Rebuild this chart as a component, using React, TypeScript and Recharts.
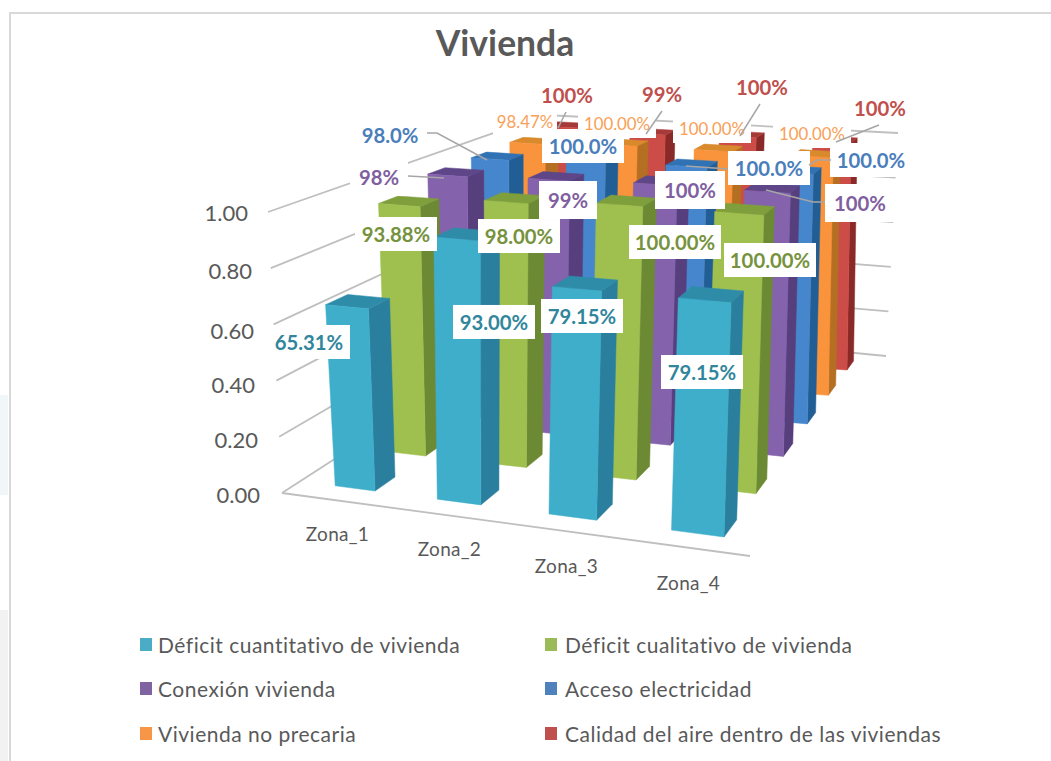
import React from "react";
import { BarChart, Bar, XAxis, YAxis, Legend, CartesianGrid } from "recharts";

const zonas = ["Zona_1", "Zona_2", "Zona_3", "Zona_4"];
const seriesNames = [
  "Déficit cuantitativo de vivienda",
  "Déficit cualitativo de vivienda",
  "Conexión vivienda",
  "Acceso electricidad",
  "Vivienda no precaria",
  "Calidad del aire dentro de las viviendas",
];
const deficitCuantitativo = [0.6531, 0.93, 0.7915, 0.7915];
const deficitCualitativo = [0.9388, 0.98, 1, 1];
const conexion = [0.98, 0.99, 1, 1];
const electricidad = [0.98, 1, 1, 1];
const noPrecaria = [0.9847, 1, 1, 1];
const calidadAire = [1, 0.99, 1, 1];
const seriesValues = [deficitCuantitativo, deficitCualitativo, conexion, electricidad, noPrecaria, calidadAire];

const labelsCuantitativo = ["65.31%", "93.00%", "79.15%", "79.15%"];
const labelsCualitativo = ["93.88%", "98.00%", "100.00%", "100.00%"];
const labelsConexion = ["98%", "99%", "100%", "100%"];
const labelsElectricidad = ["98.0%", "100.0%", "100.0%", "100.0%"];
const labelsNoPrecaria = ["98.47%", "100.00%", "100.00%", "100.00%"];
const labelsAire = ["100%", "99%", "100%", "100%"];
const seriesLabels = [labelsCuantitativo, labelsCualitativo, labelsConexion, labelsElectricidad, labelsNoPrecaria, labelsAire];
const yTicks = [0, 0.2, 0.4, 0.6, 0.8, 1];

const data = zonas.map((zona, c) => {
  const row: Record<string, any> = { zona };
  seriesNames.forEach((n, s) => (row[n] = seriesValues[s][c]));
  return row;
});

// ---- presentation only ----
const FONT = "Lato, 'Open Sans', sans-serif";
const GREY = "#595959";
const W = 1051, H = 761;
const PLOT = { left: 282, right: 750, top: 212, bottom: 493 };
const BAND = (PLOT.right - PLOT.left) / 4;
const PLOT_H = PLOT.bottom - PLOT.top;

const faces = [
  { front: "#3FAECB", side: "#2A7F9E", top: "#2F8CA9", text: "#31859C", swatch: "#4BACC6" },
  { front: "#9FC04F", side: "#6C8A33", top: "#7F9F3D", text: "#76923C", swatch: "#9BBB59" },
  { front: "#8462AC", side: "#573F7E", top: "#5F4688", text: "#7F5FA0", swatch: "#8064A2" },
  { front: "#4686CC", side: "#225E96", top: "#3072B4", text: "#4A7EBB", swatch: "#4F81BD" },
  { front: "#F9943C", side: "#B56F22", top: "#D88A2C", text: "#F9A057", swatch: "#F79646" },
  { front: "#CC4C47", side: "#8A2A28", top: "#A63A38", text: "#C0504D", swatch: "#C0504D" },
];

type Pt = [number, number];
function makeHomography(p0: Pt, p1: Pt, p2: Pt, p3: Pt) {
  const dx1 = p1[0] - p2[0], dx2 = p3[0] - p2[0], sx = p0[0] - p1[0] + p2[0] - p3[0];
  const dy1 = p1[1] - p2[1], dy2 = p3[1] - p2[1], sy = p0[1] - p1[1] + p2[1] - p3[1];
  const den = dx1 * dy2 - dx2 * dy1;
  const g = (sx * dy2 - dx2 * sy) / den, h = (dx1 * sy - sx * dy1) / den;
  const a = p1[0] - p0[0] + g * p1[0], b = p3[0] - p0[0] + h * p3[0];
  const d = p1[1] - p0[1] + g * p1[1], e = p3[1] - p0[1] + h * p3[1];
  return (u: number, v: number): Pt => {
    const q = g * u + h * v + 1;
    return [(a * u + b * v + p0[0]) / q, (d * u + e * v + p0[1]) / q];
  };
}
// view of the 3-D box: category runs along u, series along v, value along w
const floor = makeHomography([375, 491], [724, 537], [847, 370], [576, 352]);
const ceiling = makeHomography([365, 212], [733, 241], [851, 143], [578, 128]);
function project(cat: number, ser: number, w: number): Pt {
  const f = floor(cat / 3, ser / 5), t = ceiling(cat / 3, ser / 5);
  return [f[0] + (t[0] - f[0]) * w, f[1] + (t[1] - f[1]) * w];
}
const poly = (pts: Pt[]) => pts.map((p) => `${p[0].toFixed(1)},${p[1].toFixed(1)}`).join(" ");
const BAR_U = 0.4, BAR_V = 0.38;

function Box3D(props: any, s: number) {
  const c: number = props.index;
  const w = props.height / PLOT_H;
  const f = faces[s];
  const fl0 = project(c - BAR_U, s, 0), fr0 = project(c, s, 0), br0 = project(c, s + BAR_V, 0);
  const fl1 = project(c - BAR_U, s, w), fr1 = project(c, s, w), br1 = project(c, s + BAR_V, w), bl1 = project(c - BAR_U, s + BAR_V, w);
  return (
    <g>
      <polygon points={poly([fr0, br0, br1, fr1])} fill={f.side} stroke={f.side} strokeWidth={0.5} />
      <polygon points={poly([fl1, fr1, br1, bl1])} fill={f.top} stroke={f.top} strokeWidth={0.5} />
      <polygon points={poly([fl0, fr0, fr1, fl1])} fill={f.front} stroke={f.front} strokeWidth={0.5} />
    </g>
  );
}

// label placement relative to the band centre (x) and the value's pixel (y)
const labelDx = [
  [-31.5, 36.5, 7.5, 10.5],
  [55.5, 61.5, 100.5, 78.5],
  [38.5, 110.5, 115.5, 168.5],
  [49.5, 125.5, 194.5, 179.5],
  [184.5, 159.5, 137.5, 120.5],
  [226.5, 204.5, 187.5, 188.5],
];
const labelDy = [
  [32.5, 90.3, 45.4, 101.4],
  [4.8, 18.4, 30, 48],
  [-40.6, -14.8, -22, -9],
  [-82.6, -66, -44, -52],
  [-94.3, -89, -84, -79],
  [-117, -120.8, -125, -104],
];
const leaders: Record<string, Pt[]> = {
  "2-0": [[29, -1], [65, 1]],
  "2-3": [[-94, -13], [-47, -1], [-35, -1]],
  "3-0": [[37, -2], [47, -2], [97, 25]],
  "3-2": [[-83, -2], [-41, 1]],
  "3-3": [[-62, 5], [-54, 0], [-40, 0]],
  "5-0": [[-1, 17], [-9, 33]],
  "5-1": [[0, 17], [-16, 40]],
  "5-2": [[-2, 17], [-22, 49]],
  "5-3": [[-1, 17], [-44, 34]],
};
const boxWidth: Record<number, number> = { 3: 58, 4: 70, 5: 68, 6: 82, 7: 92 };

function LabelMark(props: any, s: number) {
  const c: number = props.index;
  const text = seriesLabels[s][c];
  const cx = PLOT.left + (c + 0.5) * BAND + labelDx[s][c];
  const cy = props.y + labelDy[s][c];
  const small = s === 4;
  const bw = small ? (text.length === 7 ? 78 : 64) : boxWidth[text.length];
  const bh = small ? 30 : s === 2 ? 38 : 34;
  const lead = leaders[`${s}-${c}`];
  return (
    <g>
      <rect x={cx - bw / 2} y={cy - bh / 2} width={bw} height={bh} fill="#fff" />
      {lead && (
        <polyline
          points={poly(lead.map((p) => [cx + p[0], cy + p[1]] as Pt))}
          fill="none"
          stroke="#A6A6A6"
          strokeWidth={1.5}
        />
      )}
      <text
        x={cx}
        y={cy}
        textAnchor="middle"
        dominantBaseline="central"
        fontFamily={FONT}
        fontWeight={small ? 400 : 700}
        fontSize={small ? 16.8 : 20.3}
        fill={faces[s].text}
      >
        {text}
      </text>
    </g>
  );
}

// walls of the 3-D box: [value 0, value 1] at each corner
const wallFront: [Pt, Pt] = [[282, 493], [268, 212]];
const wallBackLeft: [Pt, Pt] = [[545, 323], [545, 115]];
const wallBackRight: [Pt, Pt] = [[886, 356], [898, 133]];
const floorFrontRight: Pt = [750, 556];
const lerp = (w: [Pt, Pt], t: number): Pt => [w[0][0] + (w[1][0] - w[0][0]) * t, w[0][1] + (w[1][1] - w[0][1]) * t];

function WallLine(props: any) {
  const t = (PLOT.bottom - props.y1) / PLOT_H;
  const a = lerp(wallFront, t), b = lerp(wallBackLeft, t), c = lerp(wallBackRight, t);
  return (
    <g key={props.key ?? props.index}>
      <polyline points={poly([a, b, c])} fill="none" stroke="#BFBFBF" strokeWidth={1.8} />
      {Math.abs(t) < 0.01 && <polyline points={poly([a, floorFrontRight])} fill="none" stroke="#BFBFBF" strokeWidth={1.8} />}
    </g>
  );
}

const yLabelRight = [260, 258, 255, 254, 252, 248];
const yLabelDy = [1, 3, 4, 6, 2, 0];
function YTick(props: any) {
  const t: number = props.payload.value;
  const i = Math.round(t * 5);
  return (
    <text
      x={yLabelRight[i]}
      y={props.y + yLabelDy[i]}
      textAnchor="end"
      dominantBaseline="central"
      fontFamily={FONT}
      fontSize={22}
      fill={GREY}
    >
      {t.toFixed(2)}
    </text>
  );
}

const xTickDx = [-3, -8, -8, -3];
const xTickY = [533, 548, 565, 582];
function XTick(props: any) {
  return (
    <text
      x={props.x + xTickDx[props.index]}
      y={xTickY[props.index]}
      textAnchor="middle"
      dominantBaseline="central"
      fontFamily={FONT}
      fontSize={19}
      letterSpacing={0.3}
      fill={GREY}
    >
      {props.payload.value}
    </text>
  );
}

const legendRowY = [644, 688, 733];
function LegendBlock() {
  return (
    <div style={{ position: "relative", width: W, height: H, fontFamily: FONT, fontSize: 21, letterSpacing: 0.5, color: GREY }}>
      {seriesNames.map((n, s) => {
        const col = s % 2;
        const row = (s - col) / 2;
        const left = col === 0 ? 140 : 545;
        return (
          <div key={n} style={{ position: "absolute", left, top: legendRowY[row] - 15, height: 30, display: "flex", alignItems: "center", whiteSpace: "nowrap" }}>
            <span style={{ display: "inline-block", width: 12, height: 13, background: faces[s].swatch, marginRight: col === 0 ? 6 : 8 }} />
            <span>{n}</span>
          </div>
        );
      })}
    </div>
  );
}

export default function App() {
  const order = [5, 4, 3, 2, 1, 0];
  return (
    <div style={{ position: "absolute", left: 0, top: 0, width: W, height: H, overflow: "hidden", background: "#fff" }}>
      <div style={{ position: "absolute", left: 0, top: 610, width: 8, height: 151, background: "#F2F2F3" }} />
      <div style={{ position: "absolute", left: 0, top: 395, width: 8, height: 100, background: "#F1F6F8" }} />
      <div style={{ position: "absolute", left: 9, top: 12, width: W, height: H, borderLeft: "2px solid #D9D9D9", borderTop: "2px solid #D9D9D9" }} />
      <div style={{ position: "absolute", left: 0, width: 1010, top: 21, textAlign: "center", fontFamily: FONT, fontWeight: 700, fontSize: 35.5, lineHeight: "44px", color: GREY }}>
        Vivienda
      </div>
      <div style={{ position: "absolute", left: 0, top: 0 }}>
        <BarChart
          width={W}
          height={H}
          data={data}
          margin={{ left: 0, top: PLOT.top, right: W - PLOT.right, bottom: H - PLOT.bottom - 60 }}
        >
          <CartesianGrid vertical={false} horizontal={WallLine} />
          <YAxis
            width={PLOT.left}
            domain={[0, 1]}
            ticks={yTicks}
            axisLine={false}
            tickLine={false}
            tick={YTick}
            interval={0}
          />
          <XAxis dataKey="zona" height={60} axisLine={false} tickLine={false} tick={XTick} interval={0} />
          <Legend
            layout="horizontal"
            verticalAlign="middle"
            align="center"
            content={LegendBlock}
            wrapperStyle={{ left: 0, top: 0, width: W, height: H, pointerEvents: "none" }}
          />
          {order.map((s) => (
            <Bar key={seriesNames[s]} dataKey={seriesNames[s]} isAnimationActive={false} shape={(p: any) => Box3D(p, s)} />
          ))}
          {order.slice().reverse().map((s) => (
            <Bar key={"label-" + s} dataKey={seriesNames[s]} legendType="none" isAnimationActive={false} shape={(p: any) => LabelMark(p, s)} />
          ))}
        </BarChart>
      </div>
    </div>
  );
}
